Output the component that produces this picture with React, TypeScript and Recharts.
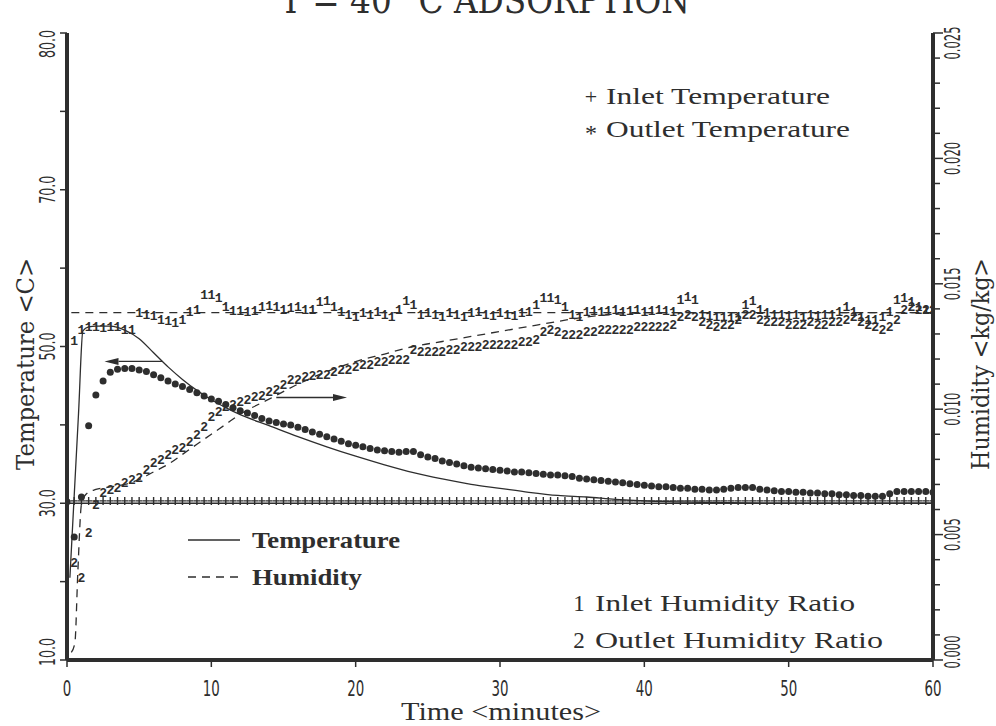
import React from 'react';
import { ComposedChart, Line, Scatter, XAxis, YAxis, ReferenceLine } from 'recharts';

const INK = '#2e2e2e';
const SERIF = "'Liberation Serif', 'Times New Roman', serif";
const WIDE_SERIF = "'DejaVu Serif', 'Liberation Serif', serif";
const NARROW = "'Liberation Sans Narrow', 'DejaVu Sans', sans-serif";

// sampling times of the measured points (minutes)
const markerTimes = [
  0, 0.5, 1, 1.5, 2, 2.5, 3, 3.5, 4, 4.5, 5, 5.5, 6, 6.5, 7, 7.5, 8, 8.5, 9, 9.5,
  10, 10.5, 11, 11.5, 12, 12.5, 13, 13.5, 14, 14.5, 15, 15.5, 16, 16.5, 17, 17.5, 18, 18.5, 19, 19.5,
  20, 20.5, 21, 21.5, 22, 22.5, 23, 23.5, 24, 24.5, 25, 25.5, 26, 26.5, 27, 27.5, 28, 28.5, 29, 29.5,
  30, 30.5, 31, 31.5, 32, 32.5, 33, 33.5, 34, 34.5, 35, 35.5, 36, 36.5, 37, 37.5, 38, 38.5, 39, 39.5,
  40, 40.5, 41, 41.5, 42, 42.5, 43, 43.5, 44, 44.5, 45, 45.5, 46, 46.5, 47, 47.5, 48, 48.5, 49, 49.5,
  50, 50.5, 51, 51.5, 52, 52.5, 53, 53.5, 54, 54.5, 55, 55.5, 56, 56.5, 57, 57.5, 58, 58.5, 59, 59.5,
  60,
];

// Inlet Temperature (+), deg C
const inletTemperature = [
  30.3, 30.3, 30.3, 30.3, 30.3, 30.3, 30.3, 30.3, 30.3, 30.3, 30.3, 30.3, 30.3, 30.3, 30.3, 30.3, 30.3, 30.3, 30.3, 30.3,
  30.3, 30.3, 30.3, 30.3, 30.3, 30.3, 30.3, 30.3, 30.3, 30.3, 30.3, 30.3, 30.3, 30.3, 30.3, 30.3, 30.3, 30.3, 30.3, 30.3,
  30.3, 30.3, 30.3, 30.3, 30.3, 30.3, 30.3, 30.3, 30.3, 30.3, 30.3, 30.3, 30.3, 30.3, 30.3, 30.3, 30.3, 30.3, 30.3, 30.3,
  30.3, 30.3, 30.3, 30.3, 30.3, 30.3, 30.3, 30.3, 30.3, 30.3, 30.3, 30.3, 30.3, 30.3, 30.3, 30.3, 30.3, 30.3, 30.3, 30.3,
  30.3, 30.3, 30.3, 30.3, 30.3, 30.3, 30.3, 30.3, 30.3, 30.3, 30.3, 30.3, 30.3, 30.3, 30.3, 30.3, 30.3, 30.3, 30.3, 30.3,
  30.3, 30.3, 30.3, 30.3, 30.3, 30.3, 30.3, 30.3, 30.3, 30.3, 30.3, 30.3, 30.3, 30.3, 30.3, 30.3, 30.3, 30.3, 30.3, 30.3,
  30.3,
];

// Outlet Temperature (*), deg C
const outletTemperature = [
  30.2, 25.7, 30.8, 39.9, 43.8, 45.6, 46.7, 47.1, 47.2, 47.2, 47.0, 46.8, 46.4, 46.0, 45.6, 45.2, 44.9, 44.5, 44.1, 43.7,
  43.3, 43.0, 42.6, 42.2, 41.8, 41.5, 41.2, 40.8, 40.5, 40.3, 40.1, 40.0, 39.7, 39.4, 39.1, 38.8, 38.5, 38.2, 37.9, 37.6,
  37.4, 37.2, 37.0, 36.8, 36.7, 36.6, 36.5, 36.6, 36.6, 36.2, 35.9, 35.7, 35.4, 35.2, 35.0, 34.8, 34.6, 34.5, 34.4, 34.3,
  34.2, 34.1, 34.0, 34.0, 33.9, 33.8, 33.7, 33.6, 33.6, 33.5, 33.4, 33.2, 33.1, 33.0, 32.9, 32.8, 32.7, 32.6, 32.5, 32.4,
  32.3, 32.2, 32.1, 32.1, 32.0, 31.9, 31.9, 31.8, 31.8, 31.7, 31.7, 31.8, 31.9, 32.0, 32.0, 32.0, 31.8, 31.7, 31.6, 31.5,
  31.5, 31.4, 31.4, 31.3, 31.3, 31.2, 31.2, 31.1, 31.1, 31.0, 31.0, 30.9, 30.9, 30.9, 31.2, 31.5, 31.5, 31.5, 31.5, 31.5,
  31.4,
];

// Inlet Humidity Ratio (1), kg/kg
const inletHumidity = [
  null, 0.01275, 0.0132, 0.0133, 0.0133, 0.01325, 0.0133, 0.0133, 0.0132, 0.0132, 0.01385, 0.0138, 0.01375, 0.0136, 0.01355, 0.01345, 0.0136, 0.0139, 0.014, 0.0146,
  0.0146, 0.01445, 0.0141, 0.01395, 0.01395, 0.0139, 0.01395, 0.0141, 0.01415, 0.0141, 0.014, 0.01405, 0.0141, 0.014, 0.014, 0.0143, 0.01435, 0.0141, 0.0139, 0.0138,
  0.0137, 0.01385, 0.0138, 0.0139, 0.0138, 0.0137, 0.014, 0.01435, 0.0142, 0.0138, 0.01385, 0.0138, 0.0137, 0.01385, 0.0138, 0.0137, 0.01385, 0.0139, 0.0138, 0.01375,
  0.01385, 0.0138, 0.01375, 0.01385, 0.0139, 0.0142, 0.01445, 0.01445, 0.0144, 0.0141, 0.0138, 0.0137, 0.0139, 0.01395, 0.0139, 0.01395, 0.014, 0.0139, 0.01395, 0.014,
  0.0139, 0.01395, 0.014, 0.01395, 0.0139, 0.0144, 0.0145, 0.0144, 0.0138, 0.01375, 0.0137, 0.0137, 0.01365, 0.0137, 0.0142, 0.01435, 0.014, 0.01385, 0.0138, 0.0138,
  0.01375, 0.0138, 0.0137, 0.0138, 0.01375, 0.0138, 0.0138, 0.0139, 0.0141, 0.0139, 0.0137, 0.0136, 0.0136, 0.0137, 0.0139, 0.0144, 0.01445, 0.0143, 0.0141, 0.014,
  0.014,
];

// Outlet Humidity Ratio (2), kg/kg
const outletHumidity = [
  null, 0.0039, 0.0033, 0.0051, 0.0062, 0.0067, 0.0068, 0.0069, 0.0071, 0.0072, 0.0073, 0.0076, 0.0079, 0.008, 0.0082, 0.0084, 0.0085, 0.0087, 0.009, 0.0093,
  0.0097, 0.0099, 0.0101, 0.0102, 0.0103, 0.0104, 0.0105, 0.01055, 0.0107, 0.0108, 0.011, 0.0112, 0.0112, 0.0113, 0.01135, 0.0114, 0.0114, 0.0115, 0.0116, 0.0116,
  0.0117, 0.0118, 0.0118, 0.0119, 0.0119, 0.012, 0.012, 0.012, 0.0124, 0.0123, 0.0123, 0.0123, 0.0123, 0.0124, 0.0124, 0.0125, 0.0125, 0.0125, 0.0126, 0.0126,
  0.0126, 0.0126, 0.0126, 0.0127, 0.0127, 0.0128, 0.0131, 0.0132, 0.0131, 0.013, 0.013, 0.013, 0.0131, 0.0131, 0.0132, 0.0132, 0.0132, 0.0132, 0.0132, 0.0133,
  0.0133, 0.0133, 0.0133, 0.0133, 0.0134, 0.0137, 0.0138, 0.0137, 0.0135, 0.0134, 0.0133, 0.0134, 0.0134, 0.0136, 0.0138, 0.0138, 0.0136, 0.0135, 0.0135, 0.0135,
  0.0134, 0.0134, 0.0134, 0.0135, 0.0134, 0.0134, 0.0135, 0.0135, 0.0136, 0.0137, 0.0135, 0.0134, 0.0133, 0.0132, 0.0133, 0.0136, 0.014, 0.0141, 0.014, 0.014,
  0.014,
];

// model curves
const tempModelTimes = [0.2, 0.5, 0.8, 1.1, 1.5, 2, 3, 4, 5, 6, 7, 8, 9, 10, 11, 12, 14, 16, 18, 20, 22, 24, 26, 28, 30, 32, 34, 36, 38, 40, 45, 50, 55, 60];
const tempModelValues = [20.5, 31, 41.5, 52.0, 52.5, 52.6, 52.6, 52.1, 51.0, 49.2, 47.4, 45.8, 44.4, 43.2, 42.2, 41.3, 39.9, 38.5, 37.2, 36.0, 34.9, 33.9, 33.1, 32.4, 31.9, 31.4, 31.0, 30.8, 30.5, 30.3, 30.1, 30.0, 30.0, 30.0];
const inletTempModelTimes = [0, 60];
const inletTempModelValues = [30.0, 30.0];
const humModelTimes = [0.3, 0.55, 0.75, 1.0, 1.3, 2, 3, 4, 5, 6, 7, 8, 9, 10, 11, 12, 14, 16, 18, 20, 22, 24, 26, 28, 30, 32, 34, 36, 38, 40, 50, 60];
const humModelValues = [0.0003, 0.0007, 0.0035, 0.0062, 0.0066, 0.0068, 0.0069, 0.007, 0.0072, 0.0075, 0.0078, 0.0082, 0.0086, 0.009, 0.0094, 0.0098, 0.0104, 0.011, 0.0115, 0.0119, 0.0122, 0.0125, 0.0127, 0.0129, 0.0131, 0.0133, 0.0135, 0.01368, 0.01378, 0.01385, 0.01385, 0.01385];
const inletHumModelTimes = [0.3, 60];
const inletHumModelValues = [0.01385, 0.01385];

// annotation arrows [time, temperature]
const arrowLeft = [[6.6, 48.1], [2.6, 48.1]];
const arrowRight = [[14.5, 43.5], [19.4, 43.5]];

// ticks
const xTicks = [0, 10, 20, 30, 40, 50, 60];
const tempTicks = [10, 20, 30, 40, 50, 60, 70, 80, 90];
const tempTickLabels: Record<number, string> = { 10: '10.0', 30: '30.0', 50: '50.0', 70: '70.0', 90: '80.0' };
const humTicks = [0, 0.001, 0.002, 0.003, 0.004, 0.005, 0.006, 0.007, 0.008, 0.009, 0.01, 0.011, 0.012, 0.013, 0.014, 0.015, 0.016, 0.017, 0.018, 0.019, 0.02, 0.021, 0.022, 0.023, 0.024, 0.025];

const toSeries = (ts: number[], vs: (number | null)[]) =>
  ts.map((t, i) => ({ t, v: vs[i] })).filter((d) => d.v !== null && d.v !== undefined);

const inletTempData = toSeries(markerTimes, inletTemperature);
const outletTempData = toSeries(markerTimes, outletTemperature);
const inletHumData = toSeries(markerTimes, inletHumidity);
const outletHumData = toSeries(markerTimes, outletHumidity);
const tempModelData = toSeries(tempModelTimes, tempModelValues);
const inletTempModelData = toSeries(inletTempModelTimes, inletTempModelValues);
const humModelData = toSeries(humModelTimes, humModelValues);
const inletHumModelData = toSeries(inletHumModelTimes, inletHumModelValues);

const PlusMark = (p: any) => {
  const { cx, cy } = p;
  if (cx == null || cy == null) return null;
  return <path d={`M${cx - 3.5},${cy}H${cx + 3.5}M${cx},${cy - 4}V${cy + 4}`} stroke={INK} strokeWidth={1.4} fill="none" />;
};
const DotMark = (p: any) => {
  const { cx, cy } = p;
  if (cx == null || cy == null) return null;
  return <circle cx={cx} cy={cy} r={3.5} fill={INK} />;
};
const glyphMark = (ch: string) => (p: any) => {
  const { cx, cy } = p;
  if (cx == null || cy == null) return null;
  return (
    <text x={cx} y={cy} dy="0.36em" textAnchor="middle" fontFamily="'Liberation Mono', 'DejaVu Sans Mono', monospace" fontWeight="bold" fontSize={13} fill={INK}>
      {ch}
    </text>
  );
};
const OneMark = glyphMark('1');
const TwoMark = glyphMark('2');

const ArrowShape = (p: any) => {
  const { x1, y1, x2, y2 } = p;
  if ([x1, y1, x2, y2].some((v) => typeof v !== 'number' || isNaN(v))) return null;
  const ang = Math.atan2(y2 - y1, x2 - x1);
  const L = 14;
  const W = 3.5;
  const bx = x2 - L * Math.cos(ang);
  const by = y2 - L * Math.sin(ang);
  const nx = -Math.sin(ang) * W;
  const ny = Math.cos(ang) * W;
  return (
    <g>
      <line x1={x1} y1={y1} x2={bx} y2={by} stroke={INK} strokeWidth={1.4} />
      <polygon points={`${x2},${y2} ${bx + nx},${by + ny} ${bx - nx},${by - ny}`} fill={INK} />
    </g>
  );
};

const XTick = (p: any) => {
  const { x, y, payload } = p;
  const label = String(payload.value);
  return (
    <text x={x} y={y + 29} textAnchor="middle" fontFamily={NARROW} fontSize={22} fill={INK} textLength={label.length * 8.5} lengthAdjust="spacingAndGlyphs">
      {label}
    </text>
  );
};

const LeftTick = (p: any) => {
  const { x, y, payload } = p;
  const v = payload.value;
  const label = tempTickLabels[v];
  const shift = v === 90 ? 11 : v === 10 ? -8 : 0;
  return (
    <g>
      <line x1={x} y1={y} x2={x - 7} y2={y} stroke={INK} strokeWidth={1.5} />
      {label ? (
        <text transform={`translate(${x - 12},${y + shift}) rotate(-90)`} textAnchor="middle" fontFamily={NARROW} fontSize={22} fill={INK} textLength={28} lengthAdjust="spacingAndGlyphs">
          {label}
        </text>
      ) : null}
    </g>
  );
};

const RightTick = (p: any) => {
  const { x, y, payload } = p;
  const v = payload.value;
  const k = Math.round(v * 1000);
  const major = k % 5 === 0;
  const shift = k === 25 ? 10 : k === 0 ? -8 : 0;
  return (
    <g>
      <line x1={x} y1={y} x2={x + (major ? 10 : 7)} y2={y} stroke={INK} strokeWidth={1.5} />
      {major ? (
        <text transform={`translate(${x + 27},${y + shift}) rotate(-90)`} textAnchor="middle" fontFamily={NARROW} fontSize={22} fill={INK} textLength={33} lengthAdjust="spacingAndGlyphs">
          {v.toFixed(3)}
        </text>
      ) : null}
    </g>
  );
};

const axisLine = { stroke: INK, strokeWidth: 4 };

export default function App() {
  return (
    <div style={{ position: 'absolute', left: 0, top: 0, width: 996, height: 726, background: '#ffffff', overflow: 'hidden' }}>
      <ComposedChart width={996} height={726} margin={{ top: 33, right: 0, bottom: 0, left: 0 }}>
        <XAxis
          xAxisId="b"
          type="number"
          dataKey="t"
          domain={[0, 60]}
          ticks={xTicks}
          interval={0}
          allowDataOverflow
          height={66}
          axisLine={axisLine}
          tickLine={{ stroke: INK, strokeWidth: 1.5 }}
          tickSize={7}
          tickMargin={0}
          tick={(p: any) => <XTick {...p} />}
        />
        <XAxis xAxisId="top" orientation="top" type="number" dataKey="t" domain={[0, 60]} height={0} tick={false} tickLine={false} axisLine={axisLine} />
        <YAxis
          yAxisId="T"
          orientation="left"
          type="number"
          dataKey="v"
          domain={[10, 90]}
          ticks={tempTicks}
          interval={0}
          allowDataOverflow
          width={67}
          axisLine={axisLine}
          tickLine={false}
          tickSize={0}
          tickMargin={0}
          tick={(p: any) => <LeftTick {...p} />}
        />
        <YAxis
          yAxisId="H"
          orientation="right"
          type="number"
          dataKey="v"
          domain={[0, 0.025]}
          ticks={humTicks}
          interval={0}
          allowDataOverflow
          width={63}
          axisLine={axisLine}
          tickLine={false}
          tickSize={0}
          tickMargin={0}
          tick={(p: any) => <RightTick {...p} />}
        />

        <Line xAxisId="b" yAxisId="T" data={inletTempModelData} dataKey="v" type="linear" stroke={INK} strokeWidth={1.3} dot={false} activeDot={false} isAnimationActive={false} />
        <Line xAxisId="b" yAxisId="T" data={tempModelData} dataKey="v" type="monotone" stroke={INK} strokeWidth={1.3} dot={false} activeDot={false} isAnimationActive={false} />
        <Line xAxisId="b" yAxisId="H" data={inletHumModelData} dataKey="v" type="linear" stroke={INK} strokeWidth={1.3} strokeDasharray="8 6" dot={false} activeDot={false} isAnimationActive={false} />
        <Line xAxisId="b" yAxisId="H" data={humModelData} dataKey="v" type="monotone" stroke={INK} strokeWidth={1.3} strokeDasharray="8 6" dot={false} activeDot={false} isAnimationActive={false} />

        <Scatter xAxisId="b" yAxisId="T" data={inletTempData} dataKey="v" shape={PlusMark} isAnimationActive={false} />
        <Scatter xAxisId="b" yAxisId="T" data={outletTempData} dataKey="v" shape={DotMark} isAnimationActive={false} />
        <Scatter xAxisId="b" yAxisId="H" data={inletHumData} dataKey="v" shape={OneMark} isAnimationActive={false} />
        <Scatter xAxisId="b" yAxisId="H" data={outletHumData} dataKey="v" shape={TwoMark} isAnimationActive={false} />

        <ReferenceLine
          xAxisId="b"
          yAxisId="T"
          segment={[{ x: arrowLeft[0][0], y: arrowLeft[0][1] }, { x: arrowLeft[1][0], y: arrowLeft[1][1] }]}
          ifOverflow="visible"
          shape={ArrowShape}
        />
        <ReferenceLine
          xAxisId="b"
          yAxisId="T"
          segment={[{ x: arrowRight[0][0], y: arrowRight[0][1] }, { x: arrowRight[1][0], y: arrowRight[1][1] }]}
          ifOverflow="visible"
          shape={ArrowShape}
        />
      </ComposedChart>

      <svg width={996} height={726} style={{ position: 'absolute', left: 0, top: 0, pointerEvents: 'none' }}>
        <text x={280} y={13} fontFamily={WIDE_SERIF} fontSize={38} fill={INK} textLength={410} lengthAdjust="spacingAndGlyphs">
          T = 40 °C ADSORPTION
        </text>

        <text transform="translate(34,364) rotate(-90)" textAnchor="middle" fontFamily={WIDE_SERIF} fontSize={24} fill={INK} textLength={212} lengthAdjust="spacingAndGlyphs">
          Temperature &lt;C&gt;
        </text>
        <text transform="translate(989,364) rotate(-90)" textAnchor="middle" fontFamily={WIDE_SERIF} fontSize={24} fill={INK} textLength={212} lengthAdjust="spacingAndGlyphs">
          Humidity &lt;kg/kg&gt;
        </text>
        <text x={501} y={720} textAnchor="middle" fontFamily={SERIF} fontSize={26} fill={INK} textLength={200} lengthAdjust="spacingAndGlyphs">
          Time &lt;minutes&gt;
        </text>

        <text x={591} y={104} textAnchor="middle" fontFamily={SERIF} fontSize={22} fill={INK}>+</text>
        <text x={606} y={104} fontFamily={SERIF} fontSize={23} fill={INK} textLength={224} lengthAdjust="spacingAndGlyphs">Inlet Temperature</text>
        <text x={591} y={141} textAnchor="middle" fontFamily={SERIF} fontSize={24} fill={INK}>*</text>
        <text x={606} y={137} fontFamily={SERIF} fontSize={23} fill={INK} textLength={244} lengthAdjust="spacingAndGlyphs">Outlet Temperature</text>

        <line x1={188} y1={540} x2={240} y2={540} stroke={INK} strokeWidth={1.5} />
        <text x={252} y={548} fontFamily={SERIF} fontWeight="bold" fontSize={23} fill={INK} textLength={148} lengthAdjust="spacingAndGlyphs">Temperature</text>
        <line x1={188} y1={577} x2={240} y2={577} stroke={INK} strokeWidth={1.5} strokeDasharray="8 6" />
        <text x={252} y={585} fontFamily={SERIF} fontWeight="bold" fontSize={23} fill={INK} textLength={110} lengthAdjust="spacingAndGlyphs">Humidity</text>

        <text x={579} y={611} textAnchor="middle" fontFamily={SERIF} fontSize={23} fill={INK}>1</text>
        <text x={595} y={611} fontFamily={SERIF} fontSize={23} fill={INK} textLength={260} lengthAdjust="spacingAndGlyphs">Inlet Humidity Ratio</text>
        <text x={579} y={648} textAnchor="middle" fontFamily={SERIF} fontSize={23} fill={INK}>2</text>
        <text x={595} y={648} fontFamily={SERIF} fontSize={23} fill={INK} textLength={288} lengthAdjust="spacingAndGlyphs">Outlet Humidity Ratio</text>
      </svg>
    </div>
  );
}
